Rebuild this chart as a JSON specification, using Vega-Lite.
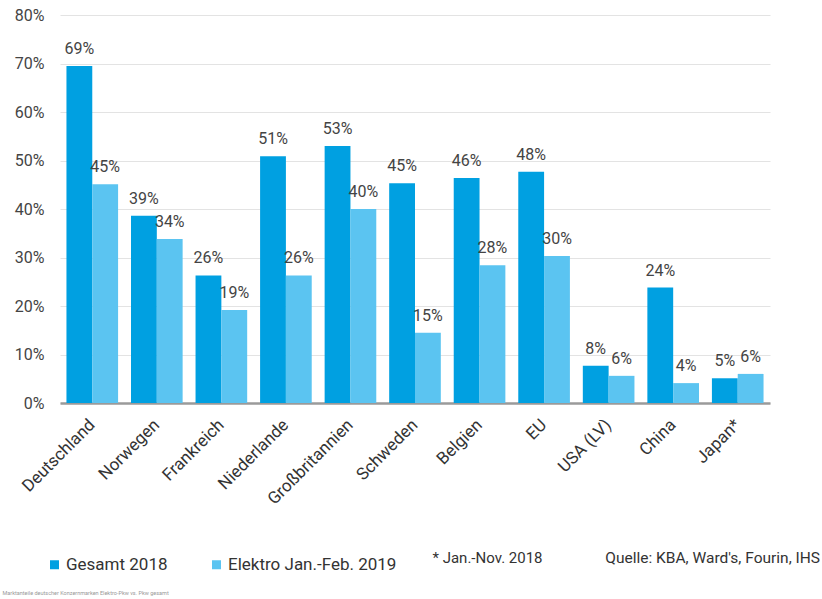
{
  "$schema": "https://vega.github.io/schema/vega-lite/v6.json",
  "width": 710,
  "height": 388,
  "autosize": {"type": "none"},
  "padding": {"left": 60, "top": 15, "right": 52, "bottom": 196},
  "background": "white",
  "config": {
    "font": "Roboto",
    "view": {"stroke": null}
  },
  "title": {
    "text": "Quelle: KBA, Ward's, Fourin, IHS",
    "orient": "bottom",
    "anchor": "end",
    "frame": "group",
    "offset": -33,
    "baseline": "alphabetic",
    "dx": 50,
    "fontSize": 15.5,
    "fontWeight": "normal",
    "color": "#333333",
    "font": "Roboto"
  },
  "data": {
    "values": [
      {"land": "Deutschland", "serie": "Gesamt 2018", "wert": 69.5, "label": "69%"},
      {"land": "Deutschland", "serie": "Elektro Jan.-Feb. 2019", "wert": 45.1, "label": "45%"},
      {"land": "Norwegen", "serie": "Gesamt 2018", "wert": 38.6, "label": "39%"},
      {"land": "Norwegen", "serie": "Elektro Jan.-Feb. 2019", "wert": 33.8, "label": "34%"},
      {"land": "Frankreich", "serie": "Gesamt 2018", "wert": 26.3, "label": "26%"},
      {"land": "Frankreich", "serie": "Elektro Jan.-Feb. 2019", "wert": 19.2, "label": "19%"},
      {"land": "Niederlande", "serie": "Gesamt 2018", "wert": 50.9, "label": "51%"},
      {"land": "Niederlande", "serie": "Elektro Jan.-Feb. 2019", "wert": 26.3, "label": "26%"},
      {"land": "Großbritannien", "serie": "Gesamt 2018", "wert": 53.0, "label": "53%"},
      {"land": "Großbritannien", "serie": "Elektro Jan.-Feb. 2019", "wert": 40.0, "label": "40%"},
      {"land": "Schweden", "serie": "Gesamt 2018", "wert": 45.3, "label": "45%"},
      {"land": "Schweden", "serie": "Elektro Jan.-Feb. 2019", "wert": 14.5, "label": "15%"},
      {"land": "Belgien", "serie": "Gesamt 2018", "wert": 46.4, "label": "46%"},
      {"land": "Belgien", "serie": "Elektro Jan.-Feb. 2019", "wert": 28.4, "label": "28%"},
      {"land": "EU", "serie": "Gesamt 2018", "wert": 47.7, "label": "48%"},
      {"land": "EU", "serie": "Elektro Jan.-Feb. 2019", "wert": 30.3, "label": "30%"},
      {"land": "USA (LV)", "serie": "Gesamt 2018", "wert": 7.7, "label": "8%"},
      {"land": "USA (LV)", "serie": "Elektro Jan.-Feb. 2019", "wert": 5.6, "label": "6%"},
      {"land": "China", "serie": "Gesamt 2018", "wert": 23.8, "label": "24%"},
      {"land": "China", "serie": "Elektro Jan.-Feb. 2019", "wert": 4.1, "label": "4%"},
      {"land": "Japan*", "serie": "Gesamt 2018", "wert": 5.1, "label": "5%"},
      {"land": "Japan*", "serie": "Elektro Jan.-Feb. 2019", "wert": 6.0, "label": "6%"}
    ]
  },
  "encoding": {
    "x": {
      "field": "land",
      "type": "nominal",
      "sort": null,
      "scale": {"paddingInner": 0.2, "paddingOuter": 0.1},
      "axis": {
        "title": "* Jan.-Nov. 2018",
        "titleX": 372,
        "titleY": 159,
        "titleAlign": "left",
        "titleBaseline": "alphabetic",
        "titleFontSize": 15,
        "titleFontWeight": "normal",
        "titleColor": "#333333",
        "labelAngle": -45,
        "labelAlign": "right",
        "labelBaseline": "middle",
        "labelFontSize": 17,
        "labelColor": "#333333",
        "labelPadding": 19,
        "ticks": false,
        "domainColor": "#9a9a9a",
        "domainWidth": 2.5,
        "grid": false
      }
    },
    "xOffset": {
      "field": "serie",
      "type": "nominal",
      "sort": ["Gesamt 2018", "Elektro Jan.-Feb. 2019"],
      "scale": {"paddingInner": 0, "paddingOuter": 0}
    },
    "y": {
      "field": "wert",
      "type": "quantitative",
      "scale": {"domain": [0, 80], "nice": false},
      "axis": {
        "values": [0, 10, 20, 30, 40, 50, 60, 70, 80],
        "labelExpr": "datum.value + '%'",
        "labelFontSize": 16,
        "labelColor": "#444444",
        "labelPadding": 16,
        "ticks": false,
        "domain": false,
        "gridColor": "#e3e3e3",
        "gridWidth": 1,
        "title": "Marktanteile deutscher Konzernmarken Elektro-Pkw vs. Pkw gesamt",
        "titleAngle": 0,
        "titleX": -58,
        "titleY": 577,
        "titleAlign": "left",
        "titleBaseline": "middle",
        "titleFontSize": 5.5,
        "titleFontWeight": "normal",
        "titleColor": "#999999"
      }
    }
  },
  "layer": [
    {
      "mark": {"type": "bar"},
      "encoding": {
        "color": {
          "field": "serie",
          "type": "nominal",
          "sort": ["Gesamt 2018", "Elektro Jan.-Feb. 2019"],
          "scale": {"domain": ["Gesamt 2018", "Elektro Jan.-Feb. 2019"], "range": ["#00a0e1", "#5bc4f1"]},
          "legend": {
            "title": null,
            "orient": "none",
            "direction": "horizontal",
            "legendX": -14,
            "legendY": 541,
            "symbolType": "square",
            "symbolSize": 81,
            "symbolStrokeWidth": 0,
            "labelFontSize": 17,
            "labelColor": "#333333",
            "labelOffset": 3,
            "columnPadding": 40,
            "labelLimit": 300
          }
        }
      }
    },
    {
      "mark": {"type": "text", "baseline": "alphabetic", "dy": -12, "fontSize": 16, "color": "#444444"},
      "encoding": {
        "text": {"field": "label"}
      }
    }
  ]
}
